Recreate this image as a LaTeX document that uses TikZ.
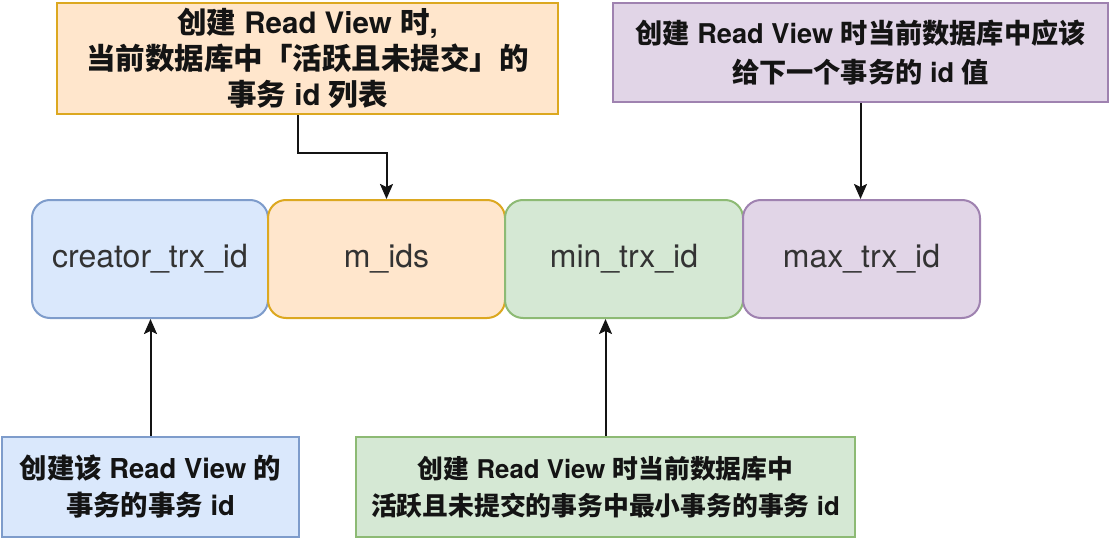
\documentclass[tikz,border=0pt]{standalone}
\usepackage{fontspec}
\setmainfont{TeX Gyre Heros}
\newfontfamily\cjk{Noto Sans CJK SC}
\newcommand\C[1]{{\cjk\bfseries #1}}
\usetikzlibrary{arrows.meta}
\definecolor{bluef}{HTML}{DAE8FC}
\definecolor{blued}{HTML}{7E9CCB}
\definecolor{orangef}{HTML}{FFE6CC}
\definecolor{oranged}{HTML}{DCA820}
\definecolor{greenf}{HTML}{D5E8D4}
\definecolor{greend}{HTML}{8DBA74}
\definecolor{purplef}{HTML}{E1D5E7}
\definecolor{purpled}{HTML}{9F82B0}
\definecolor{midtext}{HTML}{333333}
\definecolor{annot}{HTML}{141414}
\tikzset{
  field/.style={draw, line width=2pt, rounded corners=18pt, minimum height=118pt,
    inner sep=0pt, text=midtext, font=\fontsize{32}{36}\selectfont},
  note/.style={draw, line width=2pt, inner sep=0pt, align=center, text=annot},
  arr/.style={line width=2pt, draw=annot, -{Stealth[length=15pt,width=13pt,inset=3pt]}}
}
\begin{document}
\begin{tikzpicture}[x=1pt,y=-1pt]
\useasboundingbox (0,0) rectangle (1111,551);
% middle row
\node[field, fill=bluef, draw=blued, minimum width=236pt] (bm) at (150,259) {\raisebox{-2pt}{creator\_trx\_id}};
\node[field, fill=orangef, draw=oranged, minimum width=237pt] (om) at (386.5,259) {\raisebox{-2pt}{m\_ids}};
\node[field, fill=greenf, draw=greend, minimum width=238pt] (gm) at (624,259) {\raisebox{-2pt}{min\_trx\_id}};
\node[field, fill=purplef, draw=purpled, minimum width=237pt] (pm) at (861.5,259) {\raisebox{-2pt}{max\_trx\_id}};
% annotations
\node[note, fill=orangef, draw=oranged, minimum width=501pt, minimum height=111pt,
  font=\fontsize{29.5}{36}\selectfont\bfseries] (tl) at (307.5,58.5)
  {\C{创建} Read View \C{时},\\ \C{当前数据库中「活跃且未提交」的}\\ \C{事务} id \C{列表}};
\node[note, fill=purplef, draw=purpled, minimum width=495pt, minimum height=99pt,
  font=\fontsize{27.2}{39}\selectfont\bfseries] (tr) at (860.5,52.5)
  {\C{创建} Read View \C{时当前数据库中应该}\\ \C{给下一个事务的} id \C{值}};
\node[note, fill=bluef, draw=blued, minimum width=297pt, minimum height=100pt,
  font=\fontsize{27.4}{37}\selectfont\bfseries] (bl) at (150.5,487)
  {\C{创建该} Read View \C{的}\\ \C{事务的事务} id};
\node[note, fill=greenf, draw=greend, minimum width=499pt, minimum height=100pt,
  font=\fontsize{25.8}{37}\selectfont\bfseries] (bg) at (605.5,487)
  {\C{创建} Read View \C{时当前数据库中}\\ \C{活跃且未提交的事务中最小事务的事务} id};
% connectors
\draw[arr] ([xshift=-9.5pt]tl.south) -- ++(0,38) -| (om.north);
\draw[arr] (tr.south) -- (tr.south |- pm.north);
\draw[arr] (bl.north) -- (bl.north |- bm.south);
\draw[arr] (bg.north) -- (bg.north |- gm.south);
\end{tikzpicture}
\end{document}
